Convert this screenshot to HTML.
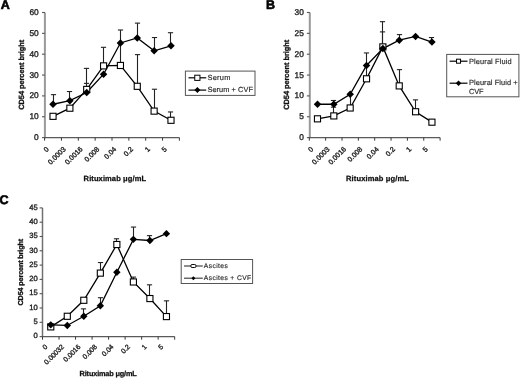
<!DOCTYPE html>
<html><head><meta charset="utf-8"><style>
html,body{margin:0;padding:0;background:#fff;overflow:hidden;}
svg{display:block;filter:grayscale(1) blur(0.25px);}
text{font-family:"Liberation Sans", sans-serif;stroke:#222;stroke-width:0.35px;text-rendering:geometricPrecision;}
</style></head><body>
<svg width="520" height="378" viewBox="0 0 520 378" font-family='"Liberation Sans", sans-serif'>
<rect width="520" height="378" fill="#fff"/>
<text x="0.8" y="8.8" font-size="12.5" font-weight="bold" fill="#000" style="stroke:#000;stroke-width:0.6px">A</text>
<line x1="44.9" y1="12.5" x2="44.9" y2="138.29999999999998" stroke="#999" stroke-width="2.0"/>
<line x1="42.00" y1="137.60" x2="44.90" y2="137.60" stroke="#555" stroke-width="1.1"/>
<text x="38.70" y="140.10" font-size="8.3" text-anchor="end" fill="#2a2a2a">0</text>
<line x1="42.00" y1="116.75" x2="44.90" y2="116.75" stroke="#555" stroke-width="1.1"/>
<text x="38.70" y="119.25" font-size="8.3" text-anchor="end" fill="#2a2a2a">10</text>
<line x1="42.00" y1="95.90" x2="44.90" y2="95.90" stroke="#555" stroke-width="1.1"/>
<text x="38.70" y="98.40" font-size="8.3" text-anchor="end" fill="#2a2a2a">20</text>
<line x1="42.00" y1="75.05" x2="44.90" y2="75.05" stroke="#555" stroke-width="1.1"/>
<text x="38.70" y="77.55" font-size="8.3" text-anchor="end" fill="#2a2a2a">30</text>
<line x1="42.00" y1="54.20" x2="44.90" y2="54.20" stroke="#555" stroke-width="1.1"/>
<text x="38.70" y="56.70" font-size="8.3" text-anchor="end" fill="#2a2a2a">40</text>
<line x1="42.00" y1="33.35" x2="44.90" y2="33.35" stroke="#555" stroke-width="1.1"/>
<text x="38.70" y="35.85" font-size="8.3" text-anchor="end" fill="#2a2a2a">50</text>
<line x1="42.00" y1="12.50" x2="44.90" y2="12.50" stroke="#555" stroke-width="1.1"/>
<text x="38.70" y="15.00" font-size="8.3" text-anchor="end" fill="#2a2a2a">60</text>
<line x1="44.6" y1="137.6" x2="179.4" y2="137.6" stroke="#5a5a5a" stroke-width="1.4"/>
<line x1="44.60" y1="137.6" x2="44.60" y2="140.7" stroke="#3a3a3a" stroke-width="1.0"/>
<line x1="61.45" y1="137.6" x2="61.45" y2="140.7" stroke="#3a3a3a" stroke-width="1.0"/>
<line x1="78.30" y1="137.6" x2="78.30" y2="140.7" stroke="#3a3a3a" stroke-width="1.0"/>
<line x1="95.15" y1="137.6" x2="95.15" y2="140.7" stroke="#3a3a3a" stroke-width="1.0"/>
<line x1="112.00" y1="137.6" x2="112.00" y2="140.7" stroke="#3a3a3a" stroke-width="1.0"/>
<line x1="128.85" y1="137.6" x2="128.85" y2="140.7" stroke="#3a3a3a" stroke-width="1.0"/>
<line x1="145.70" y1="137.6" x2="145.70" y2="140.7" stroke="#3a3a3a" stroke-width="1.0"/>
<line x1="162.55" y1="137.6" x2="162.55" y2="140.7" stroke="#3a3a3a" stroke-width="1.0"/>
<line x1="179.40" y1="137.6" x2="179.40" y2="140.7" stroke="#3a3a3a" stroke-width="1.0"/>
<text transform="translate(49.33,149.70) rotate(-45)" font-size="7.1" text-anchor="end" fill="#2a2a2a">0</text>
<text transform="translate(66.17,149.70) rotate(-45)" font-size="7.1" text-anchor="end" fill="#2a2a2a">0.0003</text>
<text transform="translate(83.02,149.70) rotate(-45)" font-size="7.1" text-anchor="end" fill="#2a2a2a">0.0016</text>
<text transform="translate(99.88,149.70) rotate(-45)" font-size="7.1" text-anchor="end" fill="#2a2a2a">0.008</text>
<text transform="translate(116.73,149.70) rotate(-45)" font-size="7.1" text-anchor="end" fill="#2a2a2a">0.04</text>
<text transform="translate(133.58,149.70) rotate(-45)" font-size="7.1" text-anchor="end" fill="#2a2a2a">0.2</text>
<text transform="translate(150.43,149.70) rotate(-45)" font-size="7.1" text-anchor="end" fill="#2a2a2a">1</text>
<text transform="translate(167.28,149.70) rotate(-45)" font-size="7.1" text-anchor="end" fill="#2a2a2a">5</text>
<text transform="translate(24.3,74.8) rotate(-90)" font-size="7.5" font-weight="bold" text-anchor="middle" fill="#111" style="stroke:#111;stroke-width:0.3px" textLength="70" lengthAdjust="spacing">CD54 percent bright</text>
<text x="83.6" y="181.2" font-size="7.5" font-weight="bold" fill="#111" style="stroke:#111;stroke-width:0.28px" textLength="62.400000000000006" lengthAdjust="spacing">Rituximab μg/mL</text>
<line x1="86.50" y1="89.44" x2="86.50" y2="68.38" stroke="#222" stroke-width="1.1"/>
<line x1="83.90" y1="68.38" x2="89.10" y2="68.38" stroke="#222" stroke-width="1.1"/>
<line x1="103.50" y1="65.88" x2="103.50" y2="47.32" stroke="#222" stroke-width="1.1"/>
<line x1="100.90" y1="47.32" x2="106.10" y2="47.32" stroke="#222" stroke-width="1.1"/>
<line x1="120.50" y1="65.46" x2="120.50" y2="43.77" stroke="#222" stroke-width="1.1"/>
<line x1="117.90" y1="43.77" x2="123.10" y2="43.77" stroke="#222" stroke-width="1.1"/>
<line x1="137.50" y1="86.31" x2="137.50" y2="54.62" stroke="#222" stroke-width="1.1"/>
<line x1="134.90" y1="54.62" x2="140.10" y2="54.62" stroke="#222" stroke-width="1.1"/>
<line x1="154.50" y1="111.12" x2="154.50" y2="89.23" stroke="#222" stroke-width="1.1"/>
<line x1="151.90" y1="89.23" x2="157.10" y2="89.23" stroke="#222" stroke-width="1.1"/>
<line x1="170.50" y1="120.29" x2="170.50" y2="111.95" stroke="#222" stroke-width="1.1"/>
<line x1="167.90" y1="111.95" x2="173.10" y2="111.95" stroke="#222" stroke-width="1.1"/>
<line x1="53.50" y1="104.24" x2="53.50" y2="94.65" stroke="#222" stroke-width="1.1"/>
<line x1="50.90" y1="94.65" x2="56.10" y2="94.65" stroke="#222" stroke-width="1.1"/>
<line x1="69.50" y1="100.70" x2="69.50" y2="91.52" stroke="#222" stroke-width="1.1"/>
<line x1="66.90" y1="91.52" x2="72.10" y2="91.52" stroke="#222" stroke-width="1.1"/>
<line x1="86.50" y1="92.56" x2="86.50" y2="83.39" stroke="#222" stroke-width="1.1"/>
<line x1="83.90" y1="83.39" x2="89.10" y2="83.39" stroke="#222" stroke-width="1.1"/>
<line x1="120.50" y1="42.94" x2="120.50" y2="30.01" stroke="#222" stroke-width="1.1"/>
<line x1="117.90" y1="30.01" x2="123.10" y2="30.01" stroke="#222" stroke-width="1.1"/>
<line x1="137.50" y1="37.94" x2="137.50" y2="23.13" stroke="#222" stroke-width="1.1"/>
<line x1="134.90" y1="23.13" x2="140.10" y2="23.13" stroke="#222" stroke-width="1.1"/>
<line x1="154.50" y1="50.86" x2="154.50" y2="37.52" stroke="#222" stroke-width="1.1"/>
<line x1="151.90" y1="37.52" x2="157.10" y2="37.52" stroke="#222" stroke-width="1.1"/>
<line x1="170.50" y1="45.86" x2="170.50" y2="32.72" stroke="#222" stroke-width="1.1"/>
<line x1="167.90" y1="32.72" x2="173.10" y2="32.72" stroke="#222" stroke-width="1.1"/>
<polyline points="53.03,116.33 69.88,108.20 86.72,89.44 103.58,65.88 120.43,65.46 137.28,86.31 154.12,111.12 170.98,120.29" fill="none" stroke="#000" stroke-width="1.3"/>
<polyline points="53.03,104.24 69.88,100.70 86.72,92.56 103.58,74.22 120.43,42.94 137.28,37.94 154.12,50.86 170.98,45.86" fill="none" stroke="#000" stroke-width="1.3"/>
<rect x="49.98" y="113.28" width="6.10" height="6.10" fill="#fff" stroke="#000" stroke-width="1.1"/>
<rect x="66.83" y="105.15" width="6.10" height="6.10" fill="#fff" stroke="#000" stroke-width="1.1"/>
<rect x="83.67" y="86.39" width="6.10" height="6.10" fill="#fff" stroke="#000" stroke-width="1.1"/>
<rect x="100.53" y="62.83" width="6.10" height="6.10" fill="#fff" stroke="#000" stroke-width="1.1"/>
<rect x="117.38" y="62.41" width="6.10" height="6.10" fill="#fff" stroke="#000" stroke-width="1.1"/>
<rect x="134.22" y="83.26" width="6.10" height="6.10" fill="#fff" stroke="#000" stroke-width="1.1"/>
<rect x="151.07" y="108.07" width="6.10" height="6.10" fill="#fff" stroke="#000" stroke-width="1.1"/>
<rect x="167.93" y="117.24" width="6.10" height="6.10" fill="#fff" stroke="#000" stroke-width="1.1"/>
<polygon points="53.03,100.49 56.78,104.24 53.03,107.99 49.28,104.24" fill="#000"/>
<polygon points="69.88,96.95 73.62,100.70 69.88,104.45 66.12,100.70" fill="#000"/>
<polygon points="86.72,88.81 90.47,92.56 86.72,96.31 82.97,92.56" fill="#000"/>
<polygon points="103.58,70.47 107.33,74.22 103.58,77.97 99.83,74.22" fill="#000"/>
<polygon points="120.43,39.19 124.18,42.94 120.43,46.69 116.68,42.94" fill="#000"/>
<polygon points="137.28,34.19 141.03,37.94 137.28,41.69 133.53,37.94" fill="#000"/>
<polygon points="154.12,47.11 157.88,50.86 154.12,54.61 150.38,50.86" fill="#000"/>
<polygon points="170.98,42.11 174.73,45.86 170.98,49.61 167.23,45.86" fill="#000"/>
<rect x="185.4" y="71.1" width="69.6" height="24.30000000000001" fill="#fff" stroke="#555" stroke-width="1"/>
<line x1="188.5" y1="77.8" x2="206.2" y2="77.8" stroke="#000" stroke-width="1.2"/>
<rect x="194.75" y="75.20" width="5.20" height="5.20" fill="#fff" stroke="#000" stroke-width="1"/>
<text x="207.4" y="80.30" font-size="7.4" fill="#2a2a2a" style="stroke-width:0.15px" textLength="23.0" lengthAdjust="spacing">Serum</text>
<line x1="188.5" y1="90.1" x2="206.2" y2="90.1" stroke="#000" stroke-width="1.2"/>
<polygon points="197.35,87.10 200.35,90.10 197.35,93.10 194.35,90.10" fill="#000"/>
<text x="207.4" y="92.10" font-size="7.4" fill="#2a2a2a" style="stroke-width:0.15px" textLength="45.6" lengthAdjust="spacing">Serum + CVF</text>
<text x="266.1" y="8.8" font-size="12.5" font-weight="bold" fill="#000" style="stroke:#000;stroke-width:0.6px">B</text>
<line x1="309.8" y1="12.5" x2="309.8" y2="138.29999999999998" stroke="#999" stroke-width="2.0"/>
<line x1="306.90" y1="137.60" x2="309.80" y2="137.60" stroke="#555" stroke-width="1.1"/>
<text x="303.80" y="140.10" font-size="8.3" text-anchor="end" fill="#2a2a2a">0</text>
<line x1="306.90" y1="116.75" x2="309.80" y2="116.75" stroke="#555" stroke-width="1.1"/>
<text x="303.80" y="119.25" font-size="8.3" text-anchor="end" fill="#2a2a2a">5</text>
<line x1="306.90" y1="95.90" x2="309.80" y2="95.90" stroke="#555" stroke-width="1.1"/>
<text x="303.80" y="98.40" font-size="8.3" text-anchor="end" fill="#2a2a2a">10</text>
<line x1="306.90" y1="75.05" x2="309.80" y2="75.05" stroke="#555" stroke-width="1.1"/>
<text x="303.80" y="77.55" font-size="8.3" text-anchor="end" fill="#2a2a2a">15</text>
<line x1="306.90" y1="54.20" x2="309.80" y2="54.20" stroke="#555" stroke-width="1.1"/>
<text x="303.80" y="56.70" font-size="8.3" text-anchor="end" fill="#2a2a2a">20</text>
<line x1="306.90" y1="33.35" x2="309.80" y2="33.35" stroke="#555" stroke-width="1.1"/>
<text x="303.80" y="35.85" font-size="8.3" text-anchor="end" fill="#2a2a2a">25</text>
<line x1="306.90" y1="12.50" x2="309.80" y2="12.50" stroke="#555" stroke-width="1.1"/>
<text x="303.80" y="15.00" font-size="8.3" text-anchor="end" fill="#2a2a2a">30</text>
<line x1="309.3" y1="137.6" x2="440.1" y2="137.6" stroke="#5a5a5a" stroke-width="1.4"/>
<line x1="309.30" y1="137.6" x2="309.30" y2="140.7" stroke="#3a3a3a" stroke-width="1.0"/>
<line x1="325.65" y1="137.6" x2="325.65" y2="140.7" stroke="#3a3a3a" stroke-width="1.0"/>
<line x1="342.00" y1="137.6" x2="342.00" y2="140.7" stroke="#3a3a3a" stroke-width="1.0"/>
<line x1="358.35" y1="137.6" x2="358.35" y2="140.7" stroke="#3a3a3a" stroke-width="1.0"/>
<line x1="374.70" y1="137.6" x2="374.70" y2="140.7" stroke="#3a3a3a" stroke-width="1.0"/>
<line x1="391.05" y1="137.6" x2="391.05" y2="140.7" stroke="#3a3a3a" stroke-width="1.0"/>
<line x1="407.40" y1="137.6" x2="407.40" y2="140.7" stroke="#3a3a3a" stroke-width="1.0"/>
<line x1="423.75" y1="137.6" x2="423.75" y2="140.7" stroke="#3a3a3a" stroke-width="1.0"/>
<line x1="440.10" y1="137.6" x2="440.10" y2="140.7" stroke="#3a3a3a" stroke-width="1.0"/>
<text transform="translate(313.78,149.70) rotate(-45)" font-size="7.1" text-anchor="end" fill="#2a2a2a">0</text>
<text transform="translate(330.12,149.70) rotate(-45)" font-size="7.1" text-anchor="end" fill="#2a2a2a">0.0003</text>
<text transform="translate(346.48,149.70) rotate(-45)" font-size="7.1" text-anchor="end" fill="#2a2a2a">0.0016</text>
<text transform="translate(362.83,149.70) rotate(-45)" font-size="7.1" text-anchor="end" fill="#2a2a2a">0.008</text>
<text transform="translate(379.18,149.70) rotate(-45)" font-size="7.1" text-anchor="end" fill="#2a2a2a">0.04</text>
<text transform="translate(395.53,149.70) rotate(-45)" font-size="7.1" text-anchor="end" fill="#2a2a2a">0.2</text>
<text transform="translate(411.88,149.70) rotate(-45)" font-size="7.1" text-anchor="end" fill="#2a2a2a">1</text>
<text transform="translate(428.23,149.70) rotate(-45)" font-size="7.1" text-anchor="end" fill="#2a2a2a">5</text>
<text transform="translate(288.6,74.8) rotate(-90)" font-size="7.5" font-weight="bold" text-anchor="middle" fill="#111" style="stroke:#111;stroke-width:0.3px" textLength="70" lengthAdjust="spacing">CD54 percent bright</text>
<text x="346.0" y="181.2" font-size="7.5" font-weight="bold" fill="#111" style="stroke:#111;stroke-width:0.28px" textLength="62.89999999999998" lengthAdjust="spacing">Rituximab μg/mL</text>
<line x1="333.50" y1="115.92" x2="333.50" y2="107.16" stroke="#222" stroke-width="1.1"/>
<line x1="330.90" y1="107.16" x2="336.10" y2="107.16" stroke="#222" stroke-width="1.1"/>
<line x1="350.50" y1="107.99" x2="350.50" y2="94.23" stroke="#222" stroke-width="1.1"/>
<line x1="347.90" y1="94.23" x2="353.10" y2="94.23" stroke="#222" stroke-width="1.1"/>
<line x1="366.50" y1="78.80" x2="366.50" y2="65.46" stroke="#222" stroke-width="1.1"/>
<line x1="363.90" y1="65.46" x2="369.10" y2="65.46" stroke="#222" stroke-width="1.1"/>
<line x1="382.50" y1="46.90" x2="382.50" y2="21.67" stroke="#222" stroke-width="1.1"/>
<line x1="379.90" y1="21.67" x2="385.10" y2="21.67" stroke="#222" stroke-width="1.1"/>
<line x1="399.50" y1="85.89" x2="399.50" y2="69.63" stroke="#222" stroke-width="1.1"/>
<line x1="396.90" y1="69.63" x2="402.10" y2="69.63" stroke="#222" stroke-width="1.1"/>
<line x1="415.50" y1="111.75" x2="415.50" y2="99.86" stroke="#222" stroke-width="1.1"/>
<line x1="412.90" y1="99.86" x2="418.10" y2="99.86" stroke="#222" stroke-width="1.1"/>
<line x1="333.50" y1="104.24" x2="333.50" y2="100.49" stroke="#222" stroke-width="1.1"/>
<line x1="330.90" y1="100.49" x2="336.10" y2="100.49" stroke="#222" stroke-width="1.1"/>
<line x1="366.50" y1="65.46" x2="366.50" y2="52.95" stroke="#222" stroke-width="1.1"/>
<line x1="363.90" y1="52.95" x2="369.10" y2="52.95" stroke="#222" stroke-width="1.1"/>
<line x1="382.50" y1="48.57" x2="382.50" y2="31.89" stroke="#222" stroke-width="1.1"/>
<line x1="379.90" y1="31.89" x2="385.10" y2="31.89" stroke="#222" stroke-width="1.1"/>
<line x1="399.50" y1="40.23" x2="399.50" y2="34.60" stroke="#222" stroke-width="1.1"/>
<line x1="396.90" y1="34.60" x2="402.10" y2="34.60" stroke="#222" stroke-width="1.1"/>
<line x1="431.50" y1="42.11" x2="431.50" y2="37.52" stroke="#222" stroke-width="1.1"/>
<line x1="428.90" y1="37.52" x2="434.10" y2="37.52" stroke="#222" stroke-width="1.1"/>
<polyline points="317.48,118.83 333.82,115.92 350.18,107.99 366.53,78.80 382.88,46.90 399.23,85.89 415.58,111.75 431.93,122.17" fill="none" stroke="#000" stroke-width="1.3"/>
<polyline points="317.48,104.24 333.82,104.24 350.18,94.23 366.53,65.46 382.88,48.57 399.23,40.23 415.58,36.48 431.93,42.11" fill="none" stroke="#000" stroke-width="1.3"/>
<rect x="314.43" y="115.78" width="6.10" height="6.10" fill="#fff" stroke="#000" stroke-width="1.1"/>
<rect x="330.77" y="112.87" width="6.10" height="6.10" fill="#fff" stroke="#000" stroke-width="1.1"/>
<rect x="347.12" y="104.94" width="6.10" height="6.10" fill="#fff" stroke="#000" stroke-width="1.1"/>
<rect x="363.48" y="75.75" width="6.10" height="6.10" fill="#fff" stroke="#000" stroke-width="1.1"/>
<rect x="379.82" y="43.85" width="6.10" height="6.10" fill="#fff" stroke="#000" stroke-width="1.1"/>
<rect x="396.18" y="82.84" width="6.10" height="6.10" fill="#fff" stroke="#000" stroke-width="1.1"/>
<rect x="412.53" y="108.70" width="6.10" height="6.10" fill="#fff" stroke="#000" stroke-width="1.1"/>
<rect x="428.88" y="119.12" width="6.10" height="6.10" fill="#fff" stroke="#000" stroke-width="1.1"/>
<polygon points="317.48,100.49 321.23,104.24 317.48,107.99 313.73,104.24" fill="#000"/>
<polygon points="333.82,100.49 337.57,104.24 333.82,107.99 330.07,104.24" fill="#000"/>
<polygon points="350.18,90.48 353.93,94.23 350.18,97.98 346.43,94.23" fill="#000"/>
<polygon points="366.53,61.71 370.28,65.46 366.53,69.21 362.78,65.46" fill="#000"/>
<polygon points="382.88,44.82 386.62,48.57 382.88,52.32 379.12,48.57" fill="#000"/>
<polygon points="399.23,36.48 402.98,40.23 399.23,43.98 395.48,40.23" fill="#000"/>
<polygon points="415.58,32.73 419.33,36.48 415.58,40.23 411.83,36.48" fill="#000"/>
<polygon points="431.93,38.36 435.68,42.11 431.93,45.86 428.18,42.11" fill="#000"/>
<rect x="446.7" y="54.4" width="72.19999999999999" height="42.4" fill="#fff" stroke="#555" stroke-width="1"/>
<line x1="449.6" y1="61.2" x2="467.5" y2="61.2" stroke="#000" stroke-width="1.2"/>
<rect x="456.55" y="59.20" width="4.00" height="4.00" fill="#fff" stroke="#000" stroke-width="1"/>
<text x="469.0" y="63.70" font-size="7.4" fill="#2a2a2a" style="stroke-width:0.15px" textLength="42.6" lengthAdjust="spacing">Pleural Fluid</text>
<line x1="449.6" y1="83.2" x2="467.5" y2="83.2" stroke="#000" stroke-width="1.2"/>
<polygon points="458.55,80.40 461.35,83.20 458.55,86.00 455.75,83.20" fill="#000"/>
<text x="469.0" y="84.70" font-size="7.4" fill="#2a2a2a" style="stroke-width:0.15px" textLength="48.6" lengthAdjust="spacing">Pleural Fluid +</text>
<text x="469.0" y="93.90" font-size="7.4" fill="#2a2a2a" style="stroke-width:0.15px" textLength="14.5" lengthAdjust="spacing">CVF</text>
<text x="-0.4" y="204.3" font-size="12.5" font-weight="bold" fill="#000" style="stroke:#000;stroke-width:0.6px">C</text>
<line x1="42.5" y1="207.9" x2="42.5" y2="337.3" stroke="#707070" stroke-width="1.5"/>
<line x1="39.60" y1="336.60" x2="42.50" y2="336.60" stroke="#555" stroke-width="1.1"/>
<text x="37.70" y="338.30" font-size="7.6" text-anchor="end" fill="#2a2a2a">0</text>
<line x1="39.60" y1="322.30" x2="42.50" y2="322.30" stroke="#555" stroke-width="1.1"/>
<text x="37.70" y="324.00" font-size="7.6" text-anchor="end" fill="#2a2a2a">5</text>
<line x1="39.60" y1="308.00" x2="42.50" y2="308.00" stroke="#555" stroke-width="1.1"/>
<text x="37.70" y="309.70" font-size="7.6" text-anchor="end" fill="#2a2a2a">10</text>
<line x1="39.60" y1="293.70" x2="42.50" y2="293.70" stroke="#555" stroke-width="1.1"/>
<text x="37.70" y="295.40" font-size="7.6" text-anchor="end" fill="#2a2a2a">15</text>
<line x1="39.60" y1="279.40" x2="42.50" y2="279.40" stroke="#555" stroke-width="1.1"/>
<text x="37.70" y="281.10" font-size="7.6" text-anchor="end" fill="#2a2a2a">20</text>
<line x1="39.60" y1="265.10" x2="42.50" y2="265.10" stroke="#555" stroke-width="1.1"/>
<text x="37.70" y="266.80" font-size="7.6" text-anchor="end" fill="#2a2a2a">25</text>
<line x1="39.60" y1="250.80" x2="42.50" y2="250.80" stroke="#555" stroke-width="1.1"/>
<text x="37.70" y="252.50" font-size="7.6" text-anchor="end" fill="#2a2a2a">30</text>
<line x1="39.60" y1="236.50" x2="42.50" y2="236.50" stroke="#555" stroke-width="1.1"/>
<text x="37.70" y="238.20" font-size="7.6" text-anchor="end" fill="#2a2a2a">35</text>
<line x1="39.60" y1="222.20" x2="42.50" y2="222.20" stroke="#555" stroke-width="1.1"/>
<text x="37.70" y="223.90" font-size="7.6" text-anchor="end" fill="#2a2a2a">40</text>
<line x1="39.60" y1="207.90" x2="42.50" y2="207.90" stroke="#555" stroke-width="1.1"/>
<text x="37.70" y="209.60" font-size="7.6" text-anchor="end" fill="#2a2a2a">45</text>
<line x1="42.5" y1="336.6" x2="174.7" y2="336.6" stroke="#5a5a5a" stroke-width="1.4"/>
<line x1="42.50" y1="336.6" x2="42.50" y2="339.70000000000005" stroke="#3a3a3a" stroke-width="1.0"/>
<line x1="59.02" y1="336.6" x2="59.02" y2="339.70000000000005" stroke="#3a3a3a" stroke-width="1.0"/>
<line x1="75.55" y1="336.6" x2="75.55" y2="339.70000000000005" stroke="#3a3a3a" stroke-width="1.0"/>
<line x1="92.07" y1="336.6" x2="92.07" y2="339.70000000000005" stroke="#3a3a3a" stroke-width="1.0"/>
<line x1="108.60" y1="336.6" x2="108.60" y2="339.70000000000005" stroke="#3a3a3a" stroke-width="1.0"/>
<line x1="125.12" y1="336.6" x2="125.12" y2="339.70000000000005" stroke="#3a3a3a" stroke-width="1.0"/>
<line x1="141.65" y1="336.6" x2="141.65" y2="339.70000000000005" stroke="#3a3a3a" stroke-width="1.0"/>
<line x1="158.17" y1="336.6" x2="158.17" y2="339.70000000000005" stroke="#3a3a3a" stroke-width="1.0"/>
<line x1="174.70" y1="336.6" x2="174.70" y2="339.70000000000005" stroke="#3a3a3a" stroke-width="1.0"/>
<text transform="translate(47.96,347.30) rotate(-45)" font-size="6.9" text-anchor="end" fill="#2a2a2a">0</text>
<text transform="translate(64.49,347.30) rotate(-45)" font-size="6.9" text-anchor="end" fill="#2a2a2a">0.00032</text>
<text transform="translate(81.01,347.30) rotate(-45)" font-size="6.9" text-anchor="end" fill="#2a2a2a">0.0016</text>
<text transform="translate(97.54,347.30) rotate(-45)" font-size="6.9" text-anchor="end" fill="#2a2a2a">0.008</text>
<text transform="translate(114.06,347.30) rotate(-45)" font-size="6.9" text-anchor="end" fill="#2a2a2a">0.04</text>
<text transform="translate(130.59,347.30) rotate(-45)" font-size="6.9" text-anchor="end" fill="#2a2a2a">0.2</text>
<text transform="translate(147.11,347.30) rotate(-45)" font-size="6.9" text-anchor="end" fill="#2a2a2a">1</text>
<text transform="translate(163.64,347.30) rotate(-45)" font-size="6.9" text-anchor="end" fill="#2a2a2a">5</text>
<text transform="translate(23.0,272.2) rotate(-90)" font-size="7.2" font-weight="bold" text-anchor="middle" fill="#111" style="stroke:#111;stroke-width:0.3px" textLength="66.7" lengthAdjust="spacing">CD54 percent bright</text>
<text x="79.6" y="376.1" font-size="7.3" font-weight="bold" fill="#111" style="stroke:#111;stroke-width:0.28px" textLength="57.20000000000002" lengthAdjust="spacing">Rituximab μg/mL</text>
<line x1="100.50" y1="273.11" x2="100.50" y2="262.53" stroke="#222" stroke-width="1.1"/>
<line x1="97.90" y1="262.53" x2="103.10" y2="262.53" stroke="#222" stroke-width="1.1"/>
<line x1="116.50" y1="244.51" x2="116.50" y2="238.79" stroke="#222" stroke-width="1.1"/>
<line x1="113.90" y1="238.79" x2="119.10" y2="238.79" stroke="#222" stroke-width="1.1"/>
<line x1="133.50" y1="281.97" x2="133.50" y2="277.11" stroke="#222" stroke-width="1.1"/>
<line x1="130.90" y1="277.11" x2="136.10" y2="277.11" stroke="#222" stroke-width="1.1"/>
<line x1="149.50" y1="298.56" x2="149.50" y2="284.83" stroke="#222" stroke-width="1.1"/>
<line x1="146.90" y1="284.83" x2="152.10" y2="284.83" stroke="#222" stroke-width="1.1"/>
<line x1="166.50" y1="316.58" x2="166.50" y2="300.85" stroke="#222" stroke-width="1.1"/>
<line x1="163.90" y1="300.85" x2="169.10" y2="300.85" stroke="#222" stroke-width="1.1"/>
<line x1="83.50" y1="316.29" x2="83.50" y2="308.86" stroke="#222" stroke-width="1.1"/>
<line x1="80.90" y1="308.86" x2="86.10" y2="308.86" stroke="#222" stroke-width="1.1"/>
<line x1="100.50" y1="305.71" x2="100.50" y2="297.70" stroke="#222" stroke-width="1.1"/>
<line x1="97.90" y1="297.70" x2="103.10" y2="297.70" stroke="#222" stroke-width="1.1"/>
<line x1="133.50" y1="239.36" x2="133.50" y2="227.06" stroke="#222" stroke-width="1.1"/>
<line x1="130.90" y1="227.06" x2="136.10" y2="227.06" stroke="#222" stroke-width="1.1"/>
<line x1="149.50" y1="240.50" x2="149.50" y2="235.64" stroke="#222" stroke-width="1.1"/>
<line x1="146.90" y1="235.64" x2="152.10" y2="235.64" stroke="#222" stroke-width="1.1"/>
<polyline points="50.76,326.88 67.29,316.29 83.81,300.28 100.34,273.11 116.86,244.51 133.39,281.97 149.91,298.56 166.44,316.58" fill="none" stroke="#000" stroke-width="1.3"/>
<polyline points="50.76,324.87 67.29,325.45 83.81,316.29 100.34,305.71 116.86,272.25 133.39,239.36 149.91,240.50 166.44,233.64" fill="none" stroke="#000" stroke-width="1.3"/>
<rect x="47.71" y="323.83" width="6.10" height="6.10" fill="#fff" stroke="#000" stroke-width="1.1"/>
<rect x="64.24" y="313.24" width="6.10" height="6.10" fill="#fff" stroke="#000" stroke-width="1.1"/>
<rect x="80.76" y="297.23" width="6.10" height="6.10" fill="#fff" stroke="#000" stroke-width="1.1"/>
<rect x="97.29" y="270.06" width="6.10" height="6.10" fill="#fff" stroke="#000" stroke-width="1.1"/>
<rect x="113.81" y="241.46" width="6.10" height="6.10" fill="#fff" stroke="#000" stroke-width="1.1"/>
<rect x="130.34" y="278.92" width="6.10" height="6.10" fill="#fff" stroke="#000" stroke-width="1.1"/>
<rect x="146.86" y="295.51" width="6.10" height="6.10" fill="#fff" stroke="#000" stroke-width="1.1"/>
<rect x="163.39" y="313.53" width="6.10" height="6.10" fill="#fff" stroke="#000" stroke-width="1.1"/>
<polygon points="50.76,321.17 54.46,324.87 50.76,328.57 47.06,324.87" fill="#000"/>
<polygon points="67.29,321.75 70.99,325.45 67.29,329.15 63.59,325.45" fill="#000"/>
<polygon points="83.81,312.59 87.51,316.29 83.81,319.99 80.11,316.29" fill="#000"/>
<polygon points="100.34,302.01 104.04,305.71 100.34,309.41 96.64,305.71" fill="#000"/>
<polygon points="116.86,268.55 120.56,272.25 116.86,275.95 113.16,272.25" fill="#000"/>
<polygon points="133.39,235.66 137.09,239.36 133.39,243.06 129.69,239.36" fill="#000"/>
<polygon points="149.91,236.80 153.61,240.50 149.91,244.20 146.21,240.50" fill="#000"/>
<polygon points="166.44,229.94 170.14,233.64 166.44,237.34 162.74,233.64" fill="#000"/>
<rect x="181.2" y="259.5" width="71.4" height="24.0" fill="#fff" stroke="#555" stroke-width="1"/>
<line x1="184.0" y1="266.0" x2="202.8" y2="266.0" stroke="#444" stroke-width="1.2"/>
<rect x="190.80" y="264.50" width="5.2" height="3.0" rx="1.3" fill="#fff" stroke="#000" stroke-width="1"/>
<text x="203.8" y="267.70" font-size="6.7" fill="#2a2a2a" style="stroke-width:0.15px" textLength="24.0" lengthAdjust="spacing">Ascites</text>
<line x1="184.0" y1="278.2" x2="202.8" y2="278.2" stroke="#444" stroke-width="1.2"/>
<polygon points="193.40,276.20 195.40,278.20 193.40,280.20 191.40,278.20" fill="#000"/>
<text x="203.8" y="279.80" font-size="6.7" fill="#2a2a2a" style="stroke-width:0.15px" textLength="47.3" lengthAdjust="spacing">Ascites + CVF</text>
</svg>
</body></html>
